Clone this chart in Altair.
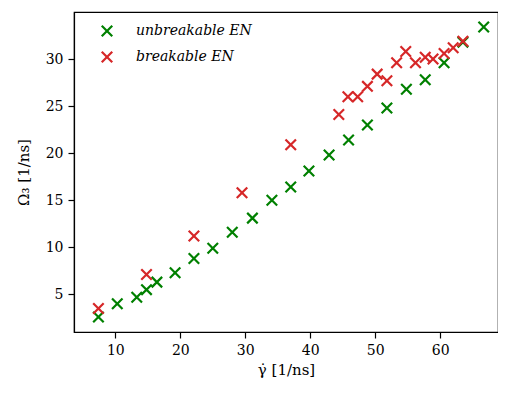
import altair as alt
import pandas as pd

# unbreakable EN
ux = [7.4, 10.3, 13.3, 14.8, 16.4, 19.2, 22.1, 25.0, 28.0, 31.1, 34.1, 37.0, 39.8, 42.9,
      45.9, 48.8, 51.8, 54.8, 57.7, 60.6, 63.5, 66.7]
uy = [2.6, 4.0, 4.7, 5.5, 6.3, 7.3, 8.8, 9.9, 11.6, 13.1, 15.0, 16.4, 18.1, 19.8,
      21.4, 23.0, 24.8, 26.8, 27.8, 29.6, 31.8, 33.4]
# breakable EN
bx = [7.4, 14.8, 22.1, 29.5, 37.0, 44.4, 45.8, 47.3, 48.8, 50.3, 51.8, 53.3, 54.7,
      56.2, 57.7, 58.9, 60.6, 62.0, 63.5]
by = [3.5, 7.1, 11.2, 15.8, 20.9, 24.1, 26.0, 26.0, 27.1, 28.4, 27.7, 29.6, 30.8,
      29.6, 30.2, 30.0, 30.6, 31.2, 31.9]

series = ["unbreakable EN", "breakable EN"]
colors = ["#008000", "#d62728"]

df = pd.concat([
    pd.DataFrame({"x": ux, "y": uy, "s": series[0], "o": 0}),
    pd.DataFrame({"x": bx, "y": by, "s": series[1], "o": 1}),
])

FONT = "DejaVu Serif"
XPATH = "M-1,-1L1,1M-1,1L1,-1"

chart = alt.Chart(df).mark_point(
    shape=XPATH, filled=False, size=110, strokeWidth=2.2, opacity=1
).encode(
    x=alt.X("x:Q", scale=alt.Scale(domain=[3.64, 68.9], nice=False, zero=False),
            axis=alt.Axis(values=[10, 20, 30, 40, 50, 60], title="γ̇ [1/ns]",
                          grid=False, tickSize=6, labelPadding=5, titlePadding=5)),
    y=alt.Y("y:Q", scale=alt.Scale(domain=[1.0, 35.0], nice=False, zero=False),
            axis=alt.Axis(values=[5, 10, 15, 20, 25, 30], title="Ω₃  [1/ns]",
                          grid=False, tickSize=6, labelPadding=5, titlePadding=14)),
    color=alt.Color("s:N", scale=alt.Scale(domain=series, range=colors),
                    legend=alt.Legend(title=None, orient="none", legendX=26, legendY=12,
                                      labelFontStyle="italic", labelFontSize=14,
                                      labelFont=FONT, symbolSize=110, symbolStrokeWidth=2.2,
                                      symbolType=XPATH, rowPadding=6, labelOffset=22)),
    order=alt.Order("o:Q"),
).properties(
    width=424, height=320,
    autosize=alt.AutoSizeParams(type="none"),
    padding={"left": 66, "top": 4, "right": 0, "bottom": 50},
).configure_view(
    stroke="black", strokeWidth=1.2
).configure_axis(
    labelFont=FONT, titleFont=FONT, labelFontSize=14, titleFontSize=15,
    labelColor="black", titleColor="black", domainColor="black", tickColor="black",
    titleFontWeight="normal", domainWidth=1.2, tickWidth=1.2
)

chart.save("out.html", embed_options={"renderer": "svg", "actions": False})
